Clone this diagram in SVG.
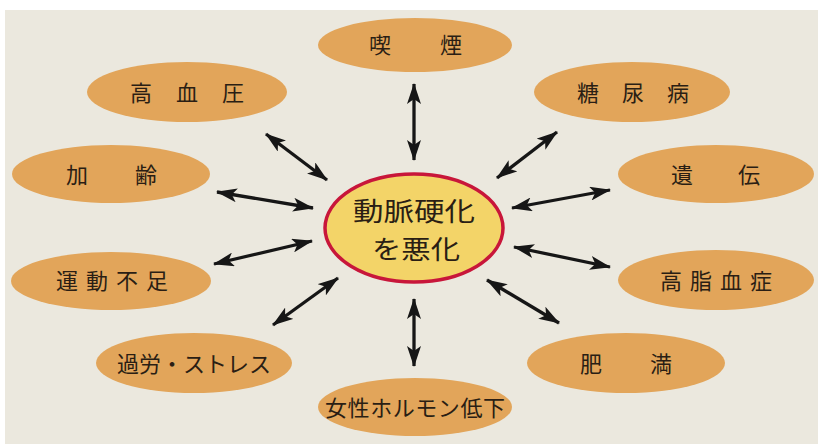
<svg xmlns="http://www.w3.org/2000/svg" width="818" height="444" viewBox="0 0 818 444">
<style>
.n ellipse{fill:#e2a55a}
.t{font-family:"Noto Sans CJK JP","Noto Sans",sans-serif;font-size:22px;fill:#2a1e14;text-anchor:middle}
.c{font-family:"Noto Sans CJK JP","Noto Sans",sans-serif;font-size:26px;fill:#2a1e14;text-anchor:middle}
.a line{stroke:#161616;stroke-width:3.3;marker-start:url(#ah);marker-end:url(#ah)}
</style>
<defs>
<marker id="ah" markerUnits="userSpaceOnUse" markerWidth="22" markerHeight="14" refX="20" refY="7" orient="auto-start-reverse">
<path d="M0,0 L21,7 L0,14 L5,7 z" fill="#161616"/>
</marker>
</defs>
<rect x="0" y="0" width="818" height="444" fill="#ffffff"/>
<rect x="5" y="10" width="813" height="434" fill="#ebe8de"/>
<g class="a" id="connectors">
<line x1="414" y1="84" x2="414" y2="160"/>
<line x1="414" y1="299" x2="414" y2="366"/>
<line x1="266" y1="134" x2="327" y2="180"/>
<line x1="217" y1="192" x2="313" y2="208"/>
<line x1="214" y1="264" x2="312" y2="241"/>
<line x1="273" y1="325" x2="338" y2="278"/>
<line x1="557" y1="132" x2="497" y2="178"/>
<line x1="512" y1="208" x2="610" y2="190"/>
<line x1="514" y1="247" x2="610" y2="267"/>
<line x1="487" y1="280" x2="559" y2="323"/>
</g>
<g class="n" id="n-kitsuen"><ellipse cx="415" cy="45" rx="97" ry="27"/><text class="t" x="380" y="53">喫</text><text class="t" x="451" y="53">煙</text></g>
<g class="n" id="n-kouketsuatsu"><ellipse cx="187" cy="92" rx="100" ry="30"/><text class="t" x="141" y="101">高</text><text class="t" x="187" y="101">血</text><text class="t" x="233" y="101">圧</text></g>
<g class="n" id="n-karei"><ellipse cx="111" cy="174" rx="99" ry="29"/><text class="t" x="77" y="183">加</text><text class="t" x="146" y="183">齢</text></g>
<g class="n" id="n-undoubusoku"><ellipse cx="111" cy="281" rx="100" ry="29"/><text class="t" x="67" y="289">運</text><text class="t" x="97" y="289">動</text><text class="t" x="127" y="289">不</text><text class="t" x="157" y="289">足</text></g>
<g class="n" id="n-karou"><ellipse cx="194" cy="363" rx="98" ry="30"/><text class="t" x="194" y="372" textLength="154">過労・ストレス</text></g>
<g class="n" id="n-josei"><ellipse cx="415" cy="407" rx="97" ry="29"/><text class="t" x="415" y="416" textLength="180">女性ホルモン低下</text></g>
<g class="n" id="n-tounyoubyou"><ellipse cx="632" cy="92" rx="98" ry="30"/><text class="t" x="588" y="101">糖</text><text class="t" x="633" y="101">尿</text><text class="t" x="678" y="101">病</text></g>
<g class="n" id="n-iden"><ellipse cx="716" cy="174" rx="98" ry="29"/><text class="t" x="682" y="183">遺</text><text class="t" x="749" y="183">伝</text></g>
<g class="n" id="n-koushikessho"><ellipse cx="716" cy="280" rx="98" ry="30"/><text class="t" x="671" y="289">高</text><text class="t" x="701" y="289">脂</text><text class="t" x="731" y="289">血</text><text class="t" x="761" y="289">症</text></g>
<g class="n" id="n-himan"><ellipse cx="626" cy="363" rx="99" ry="30"/><text class="t" x="591" y="372">肥</text><text class="t" x="661" y="372">満</text></g>
<g id="n-center"><ellipse cx="414" cy="228" rx="89" ry="54" fill="#f3d468" stroke="#c8163a" stroke-width="3.5"/><text class="c" x="414" y="221" textLength="122" lengthAdjust="spacingAndGlyphs">動脈硬化</text><text class="c" x="416" y="259" textLength="88" lengthAdjust="spacingAndGlyphs">を悪化</text></g>
</svg>
